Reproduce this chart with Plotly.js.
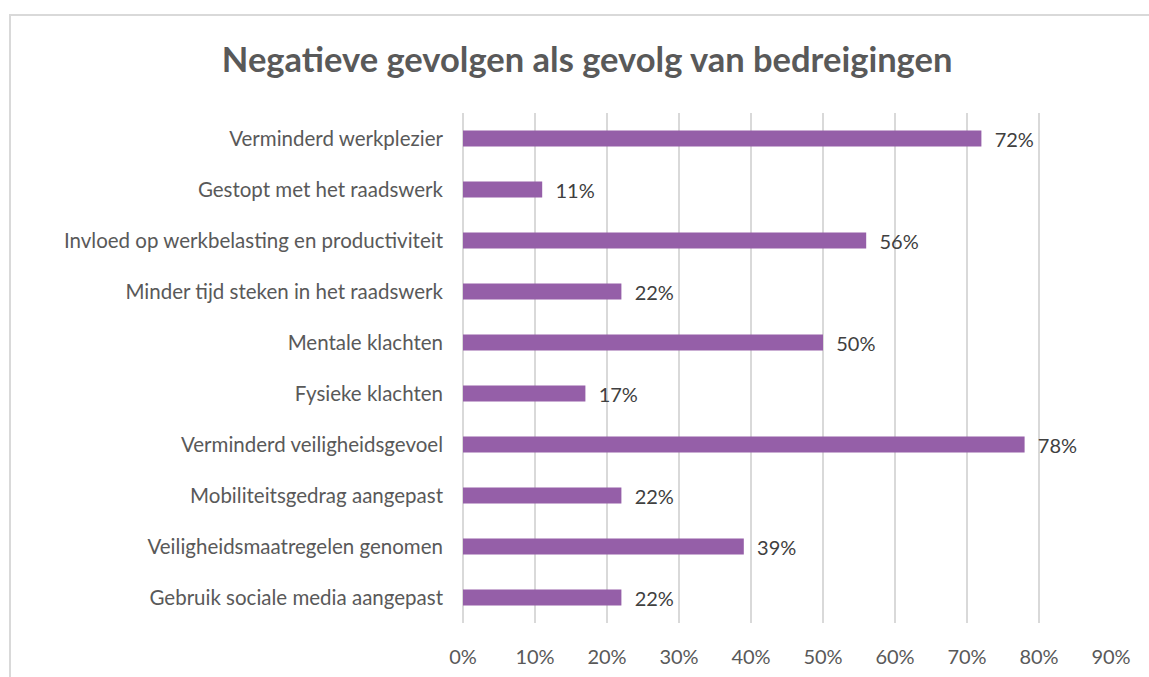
<!DOCTYPE html>
<html>
<head>
<meta charset="utf-8">
<script src="https://cdn.plot.ly/plotly-3.0.1.min.js"></script>
<style>
html,body{margin:0;padding:0;background:#fff;overflow:hidden;}
#frame{position:absolute;left:9px;top:14px;width:1300px;height:800px;border:2px solid #d9d9d9;box-sizing:border-box;}
#chart{position:absolute;left:0;top:0;width:1149px;height:677px;}
</style>
</head>
<body>
<div id="frame"></div>
<div id="chart"></div>
<script>
const categories = [
  "Verminderd werkplezier",
  "Gestopt met het raadswerk",
  "Invloed op werkbelasting en productiviteit",
  "Minder tijd steken in het raadswerk",
  "Mentale klachten",
  "Fysieke klachten",
  "Verminderd veiligheidsgevoel",
  "Mobiliteitsgedrag aangepast",
  "Veiligheidsmaatregelen genomen",
  "Gebruik sociale media aangepast"
];
const values = [0.72, 0.11, 0.56, 0.22, 0.50, 0.17, 0.78, 0.22, 0.39, 0.22];
const tickVals = [0, 0.1, 0.2, 0.3, 0.4, 0.5, 0.6, 0.7, 0.8, 0.9];
const tickLabels = ["0%", "10%", "20%", "30%", "40%", "50%", "60%", "70%", "80%", "90%"];
const titleText = "Negatieve gevolgen als gevolg van bedreigingen";

const FONT = "Lato, 'Open Sans', sans-serif";

const trace = {
  type: "bar",
  orientation: "h",
  y: categories,
  x: values,
  marker: {color: "#955FA8"},
  text: values.map(v => "\u00a0\u00a0" + Math.round(v * 100) + "%"),
  textposition: "outside",
  constraintext: "none",
  textfont: {family: FONT, size: 20, color: "#404040"},
  cliponaxis: false,
  hoverinfo: "none"
};

const layout = {
  width: 1149,
  height: 677,
  paper_bgcolor: "rgba(0,0,0,0)",
  plot_bgcolor: "rgba(0,0,0,0)",
  margin: {l: 463, r: 38, t: 113, b: 54},
  bargap: 0.69,
  showlegend: false,
  title: {
    text: "<b>" + titleText + "</b>",
    font: {family: FONT, size: 34.5, color: "#595959"},
    x: 0.511, xanchor: "center",
    y: 0.912, yanchor: "middle"
  },
  xaxis: {
    range: [0, 0.9],
    tickvals: tickVals,
    ticktext: tickLabels,
    showgrid: true,
    gridcolor: "#d9d9d9",
    gridwidth: 2,
    zeroline: true,
    zerolinecolor: "#d9d9d9",
    zerolinewidth: 2,
    showline: false,
    ticks: "",
    tickfont: {family: FONT, size: 20, color: "#595959"},
    ticklabelstandoff: 20,
    fixedrange: true
  },
  yaxis: {
    autorange: "reversed",
    showgrid: false,
    zeroline: false,
    showline: false,
    ticks: "",
    tickfont: {family: FONT, size: 20.5, color: "#595959"},
    ticklabelstandoff: 19,
    fixedrange: true
  }
};

Plotly.newPlot("chart", [trace], layout, {displayModeBar: false, staticPlot: true});
</script>
</body>
</html>
